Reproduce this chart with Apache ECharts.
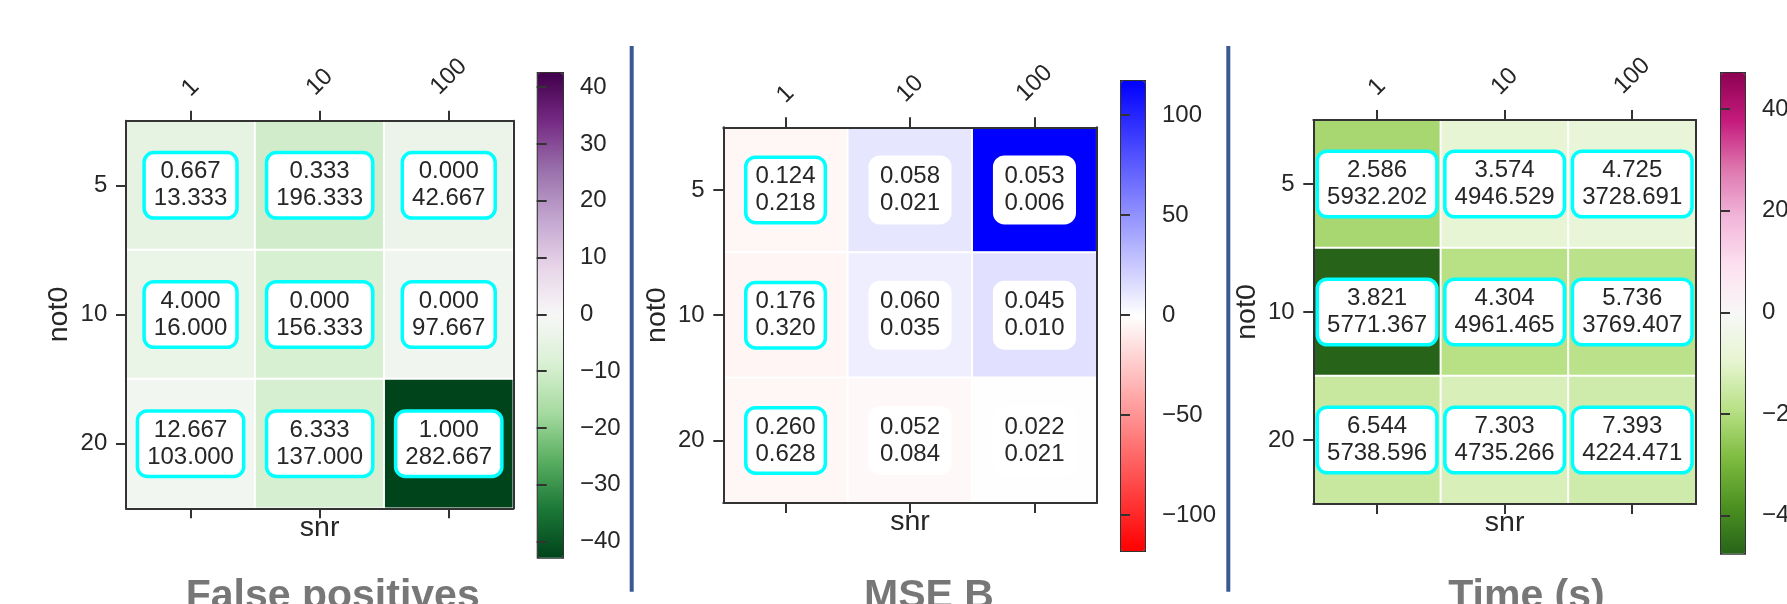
<!DOCTYPE html>
<html>
<head>
<meta charset="utf-8">
<script src="https://cdn.jsdelivr.net/npm/echarts@6/dist/echarts.min.js"></script>
<style>
html,body{margin:0;padding:0;background:#fff;}
#c{width:1787px;height:604px;}
</style>
</head>
<body>
<div id="c"></div>
<script>
// ---------------- data ----------------
const snr = ['1', '10', '100'];
const not0 = ['5', '10', '20'];

// False positives (rows: not0 5,10,20 ; cols: snr 1,10,100)
const fpColor  = [[-4.9, -10.1, -3.2], [-3.8, -8.7, -2.0], [-1.7, -8.9, -42.667]];
const fpTop    = [[0.667, 0.333, 0.000], [4.000, 0.000, 0.000], [12.667, 6.333, 1.000]];
const fpBottom = [[13.333, 196.333, 42.667], [16.000, 156.333, 97.667], [103.000, 137.000, 282.667]];
const fpBoxed  = [[1, 1, 1], [1, 1, 1], [1, 1, 1]];
const fpRange  = 42.667;
const fpTicks  = [-40, -30, -20, -10, 0, 10, 20, 30, 40];

// MSE B
const mseColor  = [[-4.1, 11.5, 117.5], [-4.5, 7.7, 14.0], [-4.0, -3.0, 0.3]];
const mseTop    = [[0.124, 0.058, 0.053], [0.176, 0.060, 0.045], [0.260, 0.052, 0.022]];
const mseBottom = [[0.218, 0.021, 0.006], [0.320, 0.035, 0.010], [0.628, 0.084, 0.021]];
const mseBoxed  = [[1, 0, 0], [1, 0, 0], [1, 0, 0]];
const mseRange  = 117.5;
const mseTicks  = [-100, -50, 0, 50, 100];

// Time (s)
const timeColor  = [[-21.6, -8.5, -7.6], [-47.3, -18.9, -18.4], [-15.6, -12.3, -14.2]];
const timeTop    = [[2.586, 3.574, 4.725], [3.821, 4.304, 5.736], [6.544, 7.303, 7.393]];
const timeBottom = [[5932.202, 4946.529, 3728.691], [5771.367, 4961.465, 3769.407], [5738.596, 4735.266, 4224.471]];
const timeBoxed  = [[1, 1, 1], [1, 1, 1], [1, 1, 1]];
const timeRange  = 47.3;
const timeTicks  = [-40, -20, 0, 20, 40];

const titles = ['False positives', 'MSE B', 'Time (s)'];

// colormaps (low -> high)
const PRGn_r = ['#00441b','#1b7837','#5aae61','#a6dba0','#d9f0d3','#f7f7f7','#e7d4e8','#c2a5cf','#9970ab','#762a83','#40004b'];
const bwr_r  = ['#ff0000','#ffffff','#0000ff'];
const PiYG_r = ['#276419','#4d9221','#7fbc41','#b8e186','#e6f5d0','#f7f7f7','#fde0ef','#f1b6da','#de77ae','#c51b7d','#8e0152'];

// ---------------- layout (pixels) ----------------
const FONT = '"Liberation Sans", Arial, Helvetica, sans-serif';
const INK = '#262626';
const FRAME = '#333333';
const panels = [
  {grid: {left: 126, top: 120.7, width: 387.3, height: 387.6}, cb: {left: 536.7, top: 72, width: 25.3, height: 484.7},
   color: fpColor, top: fpTop, bottom: fpBottom, boxed: fpBoxed, range: fpRange, ticks: fpTicks, cmap: PRGn_r, titleX: 332.7},
  {grid: {left: 723.3, top: 127.3, width: 373.4, height: 375.8}, cb: {left: 1120, top: 80, width: 24, height: 470},
   color: mseColor, top: mseTop, bottom: mseBottom, boxed: mseBoxed, range: mseRange, ticks: mseTicks, cmap: bwr_r, titleX: 929},
  {grid: {left: 1313.3, top: 120, width: 382.7, height: 384}, cb: {left: 1720, top: 72, width: 24, height: 480.7},
   color: timeColor, top: timeTop, bottom: timeBottom, boxed: timeBoxed, range: timeRange, ticks: timeTicks, cmap: PiYG_r, titleX: 1526.5}
];

const grids = [], xAxes = [], yAxes = [], series = [], visualMaps = [], titleComps = [];
const N = panels.length;

function minusFmt(v) { return v < 0 ? '\u2212' + Math.abs(v) : String(v); }

// rich styles for top rotated labels (shift shorter labels toward axis, matplotlib-like bottom alignment)
const maxLen = Math.max.apply(null, snr.map(s => s.length));
const topRich = {};
for (let L = 1; L <= maxLen; L++) {
  const p = (maxLen - L) * 7.8;
  topRich['r' + L] = {fontSize: 24, fontFamily: FONT, color: INK, padding: [p, p, 0, 0]};
}

panels.forEach((P, i) => {
  grids.push(Object.assign({show: false, containLabel: false, outerBoundsMode: 'none'}, P.grid));
});
panels.forEach((P, i) => {
  grids.push(Object.assign({show: false, containLabel: false, outerBoundsMode: 'none'}, P.cb));
});

const lineStyle = {color: FRAME, width: 2};

// x axes: top (0..2), bottom (3..5), colorbar hidden (6..8)
panels.forEach((P, i) => {
  xAxes.push({
    type: 'category', data: snr, gridIndex: i, position: 'top', z: 5,
    axisLine: {show: true, lineStyle: lineStyle},
    axisTick: {show: true, alignWithLabel: true, length: 10, lineStyle: lineStyle},
    axisLabel: {
      interval: 0, rotate: -45, align: 'center', verticalAlign: 'middle', margin: 44,
      fontSize: 24, fontFamily: FONT, color: INK,
      formatter: v => '{r' + v.length + '|' + v + '}', rich: topRich
    },
    splitLine: {show: false}
  });
});
panels.forEach((P, i) => {
  xAxes.push({
    type: 'category', data: snr, gridIndex: i, position: 'bottom', z: 5,
    name: 'snr', nameLocation: 'middle', nameGap: 5,
    nameTextStyle: {fontSize: 28.5, fontFamily: FONT, color: INK, verticalAlign: 'top'},
    axisLine: {show: true, lineStyle: lineStyle},
    axisTick: {show: true, alignWithLabel: true, length: 10, lineStyle: lineStyle},
    axisLabel: {show: false},
    splitLine: {show: false}
  });
});
panels.forEach((P, i) => {
  xAxes.push({type: 'value', gridIndex: N + i, show: false, min: 0, max: 1});
});

// y axes: left (0..2), right frame (3..5), colorbar (6..8)
panels.forEach((P, i) => {
  yAxes.push({
    type: 'category', data: not0, gridIndex: i, inverse: true, position: 'left', z: 5,
    name: 'not0', nameLocation: 'middle', nameGap: 52,
    nameTextStyle: {fontSize: 28.5, fontFamily: FONT, color: INK},
    axisLine: {show: true, lineStyle: lineStyle},
    axisTick: {show: true, alignWithLabel: true, length: 10, lineStyle: lineStyle},
    axisLabel: {interval: 0, margin: 18.7, fontSize: 24, fontFamily: FONT, color: INK},
    splitLine: {show: false}
  });
});
panels.forEach((P, i) => {
  yAxes.push({
    type: 'category', data: not0, gridIndex: i, inverse: true, position: 'right', z: 5,
    axisLine: {show: true, lineStyle: lineStyle},
    axisTick: {show: false}, axisLabel: {show: false}, splitLine: {show: false}
  });
});
panels.forEach((P, i) => {
  yAxes.push({
    type: 'value', gridIndex: N + i, position: 'right', min: -P.range, max: P.range, z: 6,
    axisLine: {show: false},
    axisTick: {show: true, inside: false, length: 10, lineStyle: lineStyle, customValues: P.ticks},
    axisLabel: {show: true, inside: false, margin: 18, fontSize: 24, fontFamily: FONT, color: INK,
                customValues: P.ticks, formatter: minusFmt},
    splitLine: {show: false}
  });
});

// heatmap series
panels.forEach((P, i) => {
  const data = [];
  for (let r = 0; r < not0.length; r++) {
    for (let c = 0; c < snr.length; c++) {
      data.push({
        value: [c, r, P.color[r][c], P.top[r][c], P.bottom[r][c]],
        label: {borderColor: P.boxed[r][c] ? '#00ffff' : '#ffffff'}
      });
    }
  }
  series.push({
    type: 'heatmap', xAxisIndex: i, yAxisIndex: i, data: data, z: 2,
    itemStyle: {borderColor: '#ffffff', borderWidth: 2},
    emphasis: {disabled: true},
    label: {
      show: true, position: 'inside',
      formatter: p => p.value[3].toFixed(3) + '\n' + p.value[4].toFixed(3),
      fontSize: 24, lineHeight: 27, fontFamily: FONT, color: INK,
      backgroundColor: '#ffffff', borderColor: '#00ffff', borderWidth: 3.5, borderRadius: 8,
      padding: [4, 8]
    }
  });
  visualMaps.push({
    type: 'continuous', seriesIndex: i, dimension: 2,
    min: -P.range, max: P.range, calculable: false, realtime: false, hoverLink: false,
    orient: 'vertical', left: P.cb.left, top: P.cb.top,
    itemWidth: P.cb.width, itemHeight: P.cb.height, padding: 0,
    text: null, showLabel: false,
    borderColor: FRAME, borderWidth: 2,
    inRange: {color: P.cmap}
  });
  titleComps.push({
    text: titles[i], left: P.titleX, top: 576, textAlign: 'center', padding: 0,
    textStyle: {fontSize: 41, fontWeight: 'bold', fontFamily: FONT, color: '#777777'}
  });
});

const chart = echarts.init(document.getElementById('c'), null, {renderer: 'canvas'});
chart.setOption({
  animation: false,
  backgroundColor: '#ffffff',
  textStyle: {fontFamily: FONT},
  title: titleComps,
  grid: grids,
  xAxis: xAxes,
  yAxis: yAxes,
  visualMap: visualMaps,
  series: series,
  graphic: [
    {type: 'line', shape: {x1: 631.7, y1: 46, x2: 631.7, y2: 591.7}, style: {stroke: '#3a5894', lineWidth: 4}},
    {type: 'line', shape: {x1: 1228.3, y1: 46, x2: 1228.3, y2: 591.7}, style: {stroke: '#3a5894', lineWidth: 4}}
  ]
});
</script>
</body>
</html>
